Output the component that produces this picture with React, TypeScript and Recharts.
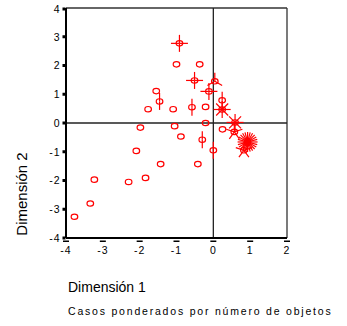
import { ScatterChart, Scatter, XAxis, YAxis, ReferenceLine, Label } from 'recharts'

// object scores (dimension 1, dimension 2) and number of cases at each point
const dim1 = [
  -0.92, -1.0, -0.37, -0.51, 0.04, -0.12, -1.55, -1.46, -1.77, -1.09, -0.58,
  -0.21, 0.24, 0.24, 0.59, 0.25, 0.57, 0.93, 0.83, -0.21, -0.3, 0.0, -1.98,
  -1.05, -0.88, -2.09, -1.43, -0.42, -3.23, -2.3, -1.84, -3.34, -3.77,
]
const dim2 = [
  2.77, 2.04, 2.04, 1.48, 1.45, 1.1, 1.11, 0.75, 0.48, 0.48, 0.55, 0.56, 0.79,
  0.47, 0.02, -0.22, -0.31, -0.66, -0.95, 0.0, -0.58, -0.95, -0.16, -0.11,
  -0.47, -0.97, -1.43, -1.43, -1.97, -2.05, -1.91, -2.8, -3.26,
]
const weights = [
  4, 1, 1, 4, 3, 4, 1, 2, 1, 1, 2, 1, 2, 8, 8, 1, 5, 24, 5, 1, 2, 2, 1, 1, 1,
  1, 1, 1, 1, 1, 1, 1, 1,
]

const xTicks = [-4, -3, -2, -1, 0, 1, 2]
const yTicks = [-4, -3, -2, -1, 0, 1, 2, 3, 4]

const points = dim1.map((x, i) => ({ x, y: dim2[i], n: weights[i] }))

const RED = '#ff0000'
const FONT = '"Liberation Sans", Arial, sans-serif'

// sunflower marker: a ring plus one petal per case when more than one
function Sunflower(props: any) {
  const { cx, cy, payload } = props
  const n = payload.n
  const len = n > 10 ? 10 : 8.5
  const petals = []
  if (n > 1) {
    for (let k = 0; k < n; k++) {
      const a = -Math.PI / 2 + (k * 2 * Math.PI) / n
      petals.push(
        <line
          key={k}
          x1={cx}
          y1={cy}
          x2={cx + len * Math.cos(a)}
          y2={cy + len * Math.sin(a)}
          stroke={RED}
          strokeWidth={1.2}
        />
      )
    }
  }
  return (
    <g>
      {petals}
      <ellipse cx={cx} cy={cy} rx={3.3} ry={2.7} fill="none" stroke={RED} strokeWidth={1.2} />
    </g>
  )
}

function XTick(props: any) {
  const { x, y, payload } = props
  return (
    <g>
      <rect x={x - 3} y={y + 2.5} width={6} height={1.5} fill="#000" />
      <text x={x} y={y + 16} textAnchor="middle" fontSize={10.5} letterSpacing={1} fill="#000" fontFamily={FONT}>
        {payload.value}
      </text>
    </g>
  )
}

function YTick(props: any) {
  const { x, y, payload } = props
  return (
    <g>
      <rect x={x - 3.5} y={y - 1.5} width={3} height={3} fill="#000" />
      <text x={x - 5.5} y={y} dy="0.36em" textAnchor="end" fontSize={10.5} letterSpacing={1} fill="#000" fontFamily={FONT}>
        {payload.value}
      </text>
    </g>
  )
}

export default function App() {
  return (
    <div style={{ position: 'absolute', left: 0, top: 0, width: 347, height: 326, background: '#fff' }}>
      <ScatterChart width={347} height={326} margin={{ top: 8, right: 60, bottom: 0, left: 0 }}>
        <XAxis
          type="number"
          dataKey="x"
          domain={[-4, 2]}
          ticks={xTicks}
          height={88}
          tickSize={0}
          tickMargin={0}
          tickLine={false}
          axisLine={{ stroke: '#000', strokeWidth: 2 }}
          tick={<XTick />}
        >
          <Label
            content={() => (
              <g>
                <text x={68} y={292} fontSize={14} fill="#000" fontFamily={FONT}>
                  Dimensión 1
                </text>
                <text x={68} y={315} fontSize={10.5} letterSpacing={1.8} fill="#000" fontFamily={FONT}>
                  Casos ponderados por número de objetos
                </text>
              </g>
            )}
          />
        </XAxis>
        <YAxis
          type="number"
          dataKey="y"
          domain={[-4, 4]}
          ticks={yTicks}
          width={66}
          tickSize={0}
          tickMargin={0}
          tickLine={false}
          axisLine={{ stroke: '#000', strokeWidth: 2 }}
          tick={<YTick />}
        >
          <Label
            content={() => (
              <text
                x={27}
                y={194}
                transform="rotate(-90 27 194)"
                textAnchor="middle"
                fontSize={15}
                fill="#000"
                fontFamily={FONT}
              >
                Dimensión 2
              </text>
            )}
          />
        </YAxis>
        <ReferenceLine y={4} stroke="#333" strokeWidth={1.3} />
        <ReferenceLine x={2} stroke="#333" strokeWidth={1.3} />
        <ReferenceLine x={0} stroke="#222" strokeWidth={1.3} />
        <ReferenceLine y={0} stroke="#222" strokeWidth={1.3} />
        <Scatter data={points} shape={<Sunflower />} isAnimationActive={false} />
      </ScatterChart>
    </div>
  )
}
